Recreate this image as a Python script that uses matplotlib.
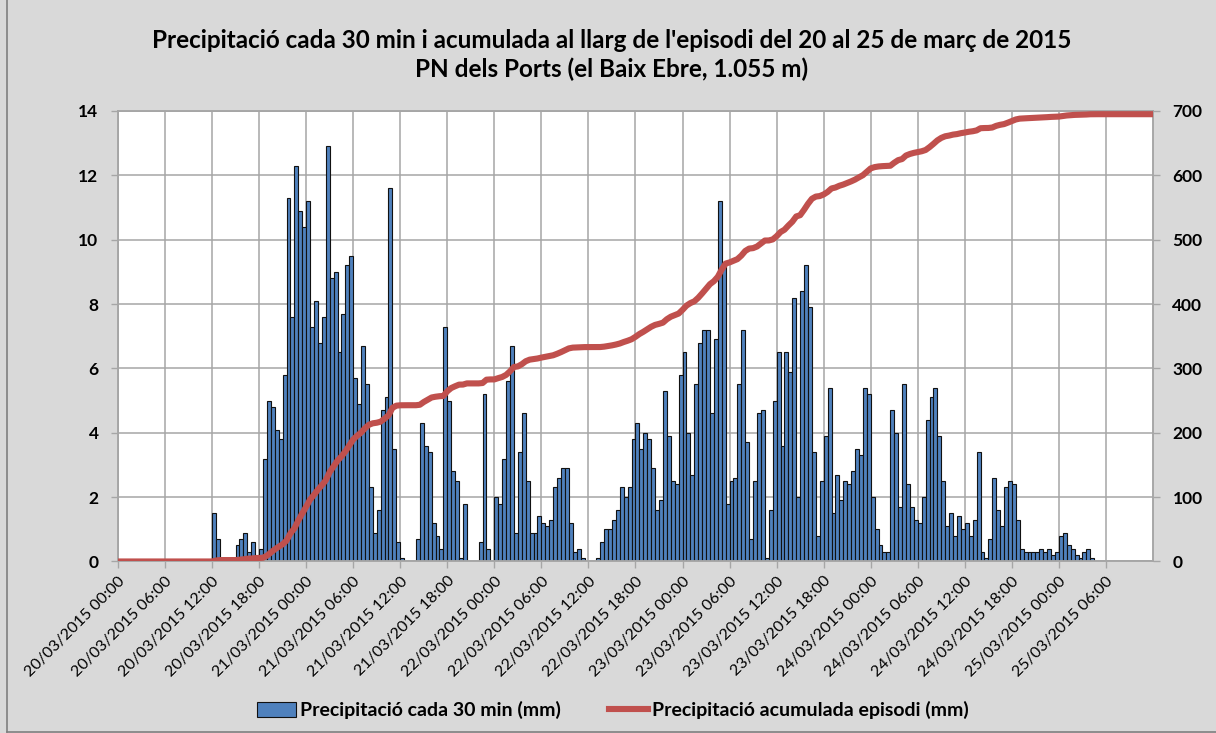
import matplotlib
matplotlib.use("Agg")
import matplotlib.pyplot as plt
import matplotlib.dates as mdates
from matplotlib.lines import Line2D
from matplotlib.patches import Patch
import numpy as np
import pandas as pd

# precipitation every 30 min (mm), one list per day, from 20/03/2015 00:00
rain_20 = [0] * 24 + [
    1.5, 0.7, 0, 0, 0, 0, 0.5, 0.7, 0.9, 0.3, 0.6, 0.2,
    0.4, 3.2, 5.0, 4.8, 4.1, 3.8, 5.8, 11.3, 7.6, 12.3, 10.9, 10.4,
]
rain_21 = [
    11.2, 7.3, 8.1, 6.8, 7.6, 12.9, 8.8, 9.0, 6.5, 7.7, 9.2, 9.5,
    5.7, 4.9, 6.7, 5.5, 2.3, 0.9, 1.6, 4.7, 5.1, 11.6, 3.5, 0.6,
    0.1, 0, 0, 0, 0.7, 4.3, 3.6, 3.4, 1.2, 0.8, 0.4, 7.3,
    5.0, 2.8, 2.5, 0.1, 1.8, 0, 0, 0, 0.6, 5.2, 0.4, 0,
]
rain_22 = [
    2.0, 1.8, 3.2, 5.6, 6.7, 0.9, 3.4, 4.6, 2.5, 0.9, 0.9, 1.4,
    1.2, 1.1, 1.3, 2.3, 2.6, 2.9, 2.9, 1.2, 0.3, 0.4, 0.1, 0,
    0, 0, 0.1, 0.6, 1.0, 1.0, 1.3, 1.6, 2.3, 2.0, 2.3, 3.8,
    4.3, 3.5, 4.0, 3.8, 2.9, 1.6, 1.9, 5.3, 3.9, 2.5, 2.4, 5.8,
]
rain_23 = [
    6.5, 4.0, 2.7, 5.5, 6.8, 7.2, 7.2, 4.6, 6.9, 11.2, 9.3, 1.8,
    2.5, 2.6, 5.5, 7.2, 3.7, 0.7, 2.5, 4.6, 4.7, 0.1, 1.6, 5.0,
    6.5, 3.6, 6.5, 5.9, 8.2, 2.0, 8.4, 9.2, 7.9, 3.4, 0.8, 2.5,
    3.9, 5.4, 1.5, 2.7, 1.9, 2.5, 2.4, 2.8, 3.5, 3.3, 5.4, 5.2,
]
rain_24 = [
    2.0, 1.0, 0.5, 0.3, 0.3, 4.7, 4.0, 1.7, 5.5, 2.4, 1.7, 1.3,
    1.2, 2.0, 4.4, 5.1, 5.4, 3.9, 2.5, 1.1, 1.5, 0.8, 1.4, 1.0,
    1.2, 0.8, 1.3, 3.4, 0.3, 0.1, 0.7, 2.6, 1.6, 1.1, 2.3, 2.5,
    2.4, 1.3, 0.4, 0.3, 0.3, 0.3, 0.3, 0.4, 0.3, 0.4, 0.2, 0.3,
]
rain_25 = [0.8, 0.9, 0.5, 0.4, 0.2, 0.1, 0.3, 0.4, 0.1, 0, 0, 0] + [0] * 12

start = "2015-03-20 00:00"
end = "2015-03-25 12:00"
label_end = "2015-03-25 06:00"

title = ("Precipitació cada 30 min i acumulada al llarg de l'episodi del 20 al 25 de març de 2015\n"
         "PN dels Ports (el Baix Ebre, 1.055 m)")
bar_label = "Precipitació cada 30 min (mm)"
line_label = "Precipitació acumulada episodi (mm)"

rain = np.array(rain_20 + rain_21 + rain_22 + rain_23 + rain_24 + rain_25, dtype=float)
times = pd.date_range(start, periods=len(rain), freq="30min")
step = pd.Timedelta("30min")
accum = np.concatenate([[0.0], np.cumsum(rain)])
accum_times = list(times) + [times[-1] + step]

BLUE = "#4F81BD"
RED = "#C0504D"
GRID = "#A6A6A6"
BG = "#D9D9D9"
FONT = "Lato"

fig = plt.figure(figsize=(12.16, 7.33), dpi=100, facecolor=BG)
ax = fig.add_axes([0.097, 0.234, 0.8512, 0.6146])
ax.set_facecolor("white")

nz = rain > 0
ax.bar(times[nz], rain[nz], width=step / pd.Timedelta("1D"), align="edge",
       color=BLUE, edgecolor="#111111", linewidth=0.8, zorder=2)
ax.set_ylim(0, 14)
ax.set_yticks(np.arange(0, 15, 2))
ax.set_xlim(pd.Timestamp(start), pd.Timestamp(end))
ax.set_xticks(pd.date_range(start, label_end, freq="6h"))
ax.xaxis.set_major_formatter(mdates.DateFormatter("%d/%m/%Y %H:%M"))
ax.grid(True, color=GRID, linewidth=1.1)
ax.set_axisbelow(True)

ax2 = ax.twinx()
ax2.plot(accum_times, accum, color=RED, linewidth=4.4, solid_capstyle="butt", zorder=3)
ax2.set_ylim(0, 700)
ax2.set_yticks(np.arange(0, 701, 100))

for a in (ax, ax2):
    for sp in a.spines.values():
        sp.set_color(GRID)
        sp.set_linewidth(1.1)
    a.tick_params(colors=GRID, length=5, width=1.0)
    for lab in a.get_yticklabels():
        lab.set_fontfamily(FONT)
        lab.set_fontweight("bold")
        lab.set_fontsize(12.5)
        lab.set_color("black")

ax.tick_params(axis="y", pad=9)
ax2.tick_params(axis="y", pad=9)
ax.tick_params(axis="x", pad=4)
for lab in ax.get_xticklabels():
    lab.set_rotation(45)
    lab.set_ha("right")
    lab.set_va("top")
    lab.set_rotation_mode("anchor")
    lab.set_fontfamily(FONT)
    lab.set_fontsize(11.5)
    lab.set_color("black")

fig.text(0.503, 0.925, title, ha="center", va="center", fontfamily=FONT,
         fontweight="bold", fontsize=17.5, linespacing=1.3, color="black")

handles = [
    Patch(facecolor=BLUE, edgecolor="#111111", linewidth=0.8),
    Line2D([0], [0], color=RED, linewidth=4.4),
]
fig.legend(handles, [bar_label, line_label], loc="center", bbox_to_anchor=(0.504, 0.031),
           ncol=2, frameon=False, handlelength=2.0, handleheight=0.75, handletextpad=0.2,
           columnspacing=2.5, prop={"family": FONT, "weight": "bold", "size": 14})

# chart area border
fig.add_artist(Line2D([7 / 1216, 7 / 1216], [0.0015, 1], transform=fig.transFigure,
                      color="#7F7F7F", linewidth=1.2))
fig.add_artist(Line2D([7 / 1216, 1], [0.0015, 0.0015], transform=fig.transFigure,
                      color="#7F7F7F", linewidth=1.2))

fig.savefig("out.png", dpi=100, facecolor=BG)
